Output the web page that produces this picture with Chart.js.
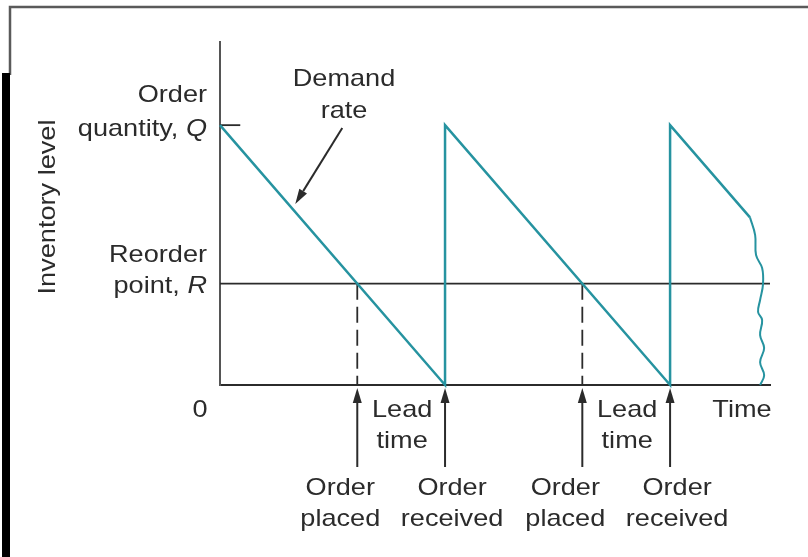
<!DOCTYPE html>
<html>
<head>
<meta charset="utf-8">
<script src="https://cdn.jsdelivr.net/npm/chart.js@4.4.1/dist/chart.umd.min.js"></script>
<style>
  html, body { margin: 0; padding: 0; background: #fff; }
  canvas { display: block; }
</style>
</head>
<body>
<canvas id="inventoryChart" width="808" height="557"></canvas>
<script>
// Levels (inventory units) and time axis (time units)
const orderQty = 100;
const reorderPoint = 39;
const yMax = 132;
const xMax = 24.44;

// Sawtooth inventory level
const inventoryX = [0, 10, 10, 20, 20, 23.55];
const inventoryY = [100, 0, 100, 0, 100, 64.5];

// Broken-off end of the curve (wavy)
const wavyX = [23.55, 23.78, 23.82, 24.09, 24.13, 24.0, 23.91, 24.09, 24.0, 24.18, 24.0, 24.18, 24.0];
const wavyY = [64.5, 57.7, 50, 45, 38.8, 32.7, 28.1, 25, 19.2, 14.2, 8.8, 3.8, 0];

// Order events
const orderPlaced = [6.1, 16.1];
const orderReceived = [10, 20];

const teal = "#2693a0";
const ink = "#2b2b2b";
const fontFamily = "'Liberation Sans', Arial, sans-serif";

function pts(xs, ys) {
  return xs.map((x, i) => ({ x: x, y: ys[i] }));
}

const datasets = [
  {
    label: "Inventory",
    data: pts(inventoryX, inventoryY),
    borderColor: teal,
    borderWidth: 2.5,
    pointRadius: 0,
    showLine: true,
    clip: false,
  },
  {
    label: "Inventory (cont.)",
    data: pts(wavyX, wavyY),
    borderColor: teal,
    borderWidth: 2,
    pointRadius: 0,
    showLine: true,
    tension: 0.4,
    clip: false,
  },
  {
    label: "Reorder point",
    data: [{ x: 0, y: reorderPoint }, { x: xMax, y: reorderPoint }],
    borderColor: ink,
    borderWidth: 1.8,
    pointRadius: 0,
    showLine: true,
    clip: false,
  },
  {
    label: "Q tick",
    data: [{ x: 0, y: orderQty }, { x: 0.9, y: orderQty }],
    borderColor: ink,
    borderWidth: 1.8,
    pointRadius: 0,
    showLine: true,
    clip: false,
  },
];

// Dashed drop lines where the order is placed
orderPlaced.forEach((t) => {
  datasets.push({
    label: "Order placed",
    data: [{ x: t, y: reorderPoint }, { x: t, y: 0 }],
    borderColor: ink,
    borderWidth: 1.8,
    borderDash: [16, 7],
    pointRadius: 0,
    showLine: true,
    clip: false,
  });
});

function text(ctx, str, x, y, align) {
  // source lettering is a touch wider than Liberation Sans
  ctx.save();
  ctx.translate(x, y);
  ctx.scale(1.13, 1);
  ctx.textAlign = align || "center";
  ctx.fillText(str, 0, 0);
  ctx.restore();
}

function richRight(ctx, parts, right, y) {
  // parts: [[text, italic], ...], right aligned
  ctx.save();
  ctx.translate(right, y);
  ctx.scale(1.13, 1);
  ctx.textAlign = "left";
  let total = 0;
  parts.forEach((p) => {
    ctx.font = (p[1] ? "italic " : "") + "24px " + fontFamily;
    total += ctx.measureText(p[0]).width;
  });
  let x = -total;
  parts.forEach((p) => {
    ctx.font = (p[1] ? "italic " : "") + "24px " + fontFamily;
    ctx.fillText(p[0], x, 0);
    x += ctx.measureText(p[0]).width;
  });
  ctx.restore();
}

function arrow(ctx, x1, y1, x2, y2) {
  const ang = Math.atan2(y2 - y1, x2 - x1);
  const len = 15, half = 4.5;
  const bx = x2 - len * Math.cos(ang), by = y2 - len * Math.sin(ang);
  ctx.beginPath();
  ctx.moveTo(x1, y1);
  ctx.lineTo(bx, by);
  ctx.stroke();
  ctx.beginPath();
  ctx.moveTo(x2, y2);
  ctx.lineTo(bx + half * Math.sin(ang), by - half * Math.cos(ang));
  ctx.lineTo(bx - half * Math.sin(ang), by + half * Math.cos(ang));
  ctx.closePath();
  ctx.fill();
}

const frame = {
  id: "frame",
  beforeDraw(chart) {
    const ctx = chart.ctx;
    ctx.save();
    ctx.fillStyle = "#fff";
    ctx.fillRect(0, 0, chart.width, chart.height);
    ctx.strokeStyle = "#5a5a5a";
    ctx.lineWidth = 2.5;
    ctx.beginPath();
    ctx.moveTo(10, 75);
    ctx.lineTo(10, 7);
    ctx.lineTo(chart.width, 7);
    ctx.stroke();
    ctx.fillStyle = "#000";
    ctx.fillRect(2, 73, 8, chart.height - 73);
    ctx.restore();
  },
};

const labels = {
  id: "labels",
  afterDraw(chart) {
    const ctx = chart.ctx;
    const xs = chart.scales.x, ys = chart.scales.y;
    const axisY = ys.getPixelForValue(0);
    ctx.save();
    ctx.fillStyle = ink;
    ctx.strokeStyle = ink;
    ctx.lineWidth = 2;
    ctx.font = "24px " + fontFamily;

    // y side labels
    const left = xs.getPixelForValue(0);
    richRight(ctx, [["Order", false]], left - 13, ys.getPixelForValue(orderQty) - 23);
    richRight(ctx, [["quantity, ", false], ["Q", true]], left - 13, ys.getPixelForValue(orderQty) + 11);
    richRight(ctx, [["Reorder", false]], left - 13, ys.getPixelForValue(reorderPoint) - 22);
    richRight(ctx, [["point, ", false], ["R", true]], left - 13, ys.getPixelForValue(reorderPoint) + 9);
    text(ctx, "0", left - 20, axisY + 32);

    // y title
    ctx.save();
    ctx.translate(55, 207);
    ctx.rotate(-Math.PI / 2);
    text(ctx, "Inventory level", 0, 0);
    ctx.restore();

    text(ctx, "Time", xs.right - 28, axisY + 32);

    // Demand rate callout
    text(ctx, "Demand", 344, 86);
    text(ctx, "rate", 344, 118);
    const tipX = xs.getPixelForValue(3.3) + 1;
    const tipY = ys.getPixelForValue(67) - 7;
    arrow(ctx, tipX + 47, tipY - 76, tipX, tipY);

    // order events
    orderPlaced.forEach((t, i) => {
      const xp = xs.getPixelForValue(t);
      const xr = xs.getPixelForValue(orderReceived[i]);
      arrow(ctx, xp, axisY + 82, xp, axisY + 3);
      arrow(ctx, xr, axisY + 82, xr, axisY + 3);
      const mid = (xp + xr) / 2;
      text(ctx, "Lead", mid + 1, axisY + 32);
      text(ctx, "time", mid + 1, axisY + 63);
      text(ctx, "Order", xp - 17, axisY + 110);
      text(ctx, "placed", xp - 17, axisY + 141);
      text(ctx, "Order", xr + 7, axisY + 110);
      text(ctx, "received", xr + 7, axisY + 141);
    });
    ctx.restore();
  },
};

new Chart(document.getElementById("inventoryChart").getContext("2d"), {
  type: "scatter",
  data: { datasets: datasets },
  options: {
    responsive: false,
    animation: false,
    layout: { padding: { left: 212, right: 38, top: 42, bottom: 164 } },
    plugins: {
      legend: { display: false },
      tooltip: { enabled: false },
    },
    scales: {
      x: {
        type: "linear",
        min: 0,
        max: xMax,
        grid: { display: false },
        ticks: { display: false },
        border: { display: true, color: ink, width: 2 },
      },
      y: {
        type: "linear",
        min: 0,
        max: yMax,
        grid: { display: false },
        ticks: { display: false },
        border: { display: true, color: "#555", width: 2 },
      },
    },
  },
  plugins: [frame, labels],
});
</script>
</body>
</html>
